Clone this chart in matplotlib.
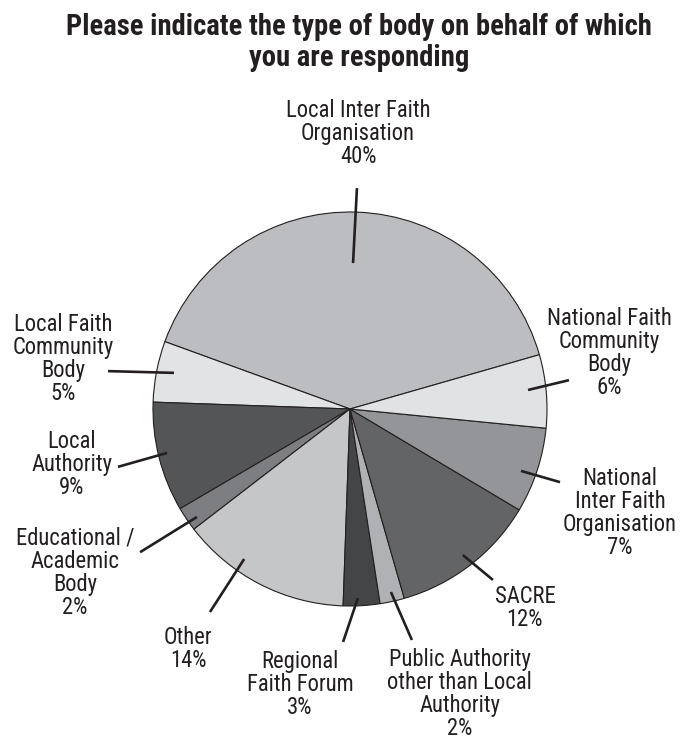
import matplotlib
matplotlib.use("Agg")
import matplotlib.pyplot as plt
from matplotlib.font_manager import FontProperties
import numpy as np

# ---- data ----
categories = [
    "Local Inter Faith\nOrganisation",
    "Local Faith\nCommunity\nBody",
    "Local\nAuthority",
    "Educational /\nAcademic\nBody",
    "Other",
    "Regional\nFaith Forum",
    "Public Authority\nother than Local\nAuthority",
    "SACRE",
    "National\nInter Faith\nOrganisation",
    "National Faith\nCommunity\nBody",
]
percent = [40, 5, 9, 2, 14, 3, 2, 12, 7, 6]
colors = ["#bcbdc0", "#e2e3e5", "#545557", "#7d7e81", "#c5c6c8",
          "#444547", "#b0b1b4", "#636466", "#949598", "#e1e2e4"]
title = "Please indicate the type of body on behalf of which\nyou are responding"

# ---- layout (in pie-radius units / degrees relative to wedge middle) ----
leaders = [
    (0.8, 0.741, 0.2, 1.122),
    (-0.6, 0.912, 2.1, 1.243),
    (-0.7, 0.955, -0.2, 1.214),
    (1.2, 0.951, 0.3, 1.29),
    (-8.0, 0.932, -7.4, 1.252),
    (-1.0, 0.96, -5.1, 1.183),
    (0.2, 0.952, 2.6, 1.214),
    (0.1, 0.937, 2.3, 1.131),
    (-1.7, 0.923, -1.0, 1.129),
    (0.9, 0.909, 2.3, 1.121),
]
text_pos = [
    (0.041, 1.401), (-1.457, 0.254), (-1.411, -0.284), (-1.396, -0.832),
    (-0.822, -1.218), (-0.254, -1.401), (0.558, -1.445), (0.888, -1.010),
    (1.371, -0.528), (1.315, 0.284),
]

FONT = ["Roboto Condensed", "Liberation Sans Narrow", "Roboto", "DejaVu Sans"]
INK = "#231f20"

W, H = 684, 742
fig = plt.figure(figsize=(W / 100, H / 100), dpi=100)
ax = fig.add_axes([0, 0, 1, 1])
R_px = 197.0
cx, cy = 350.0, 409.0

wedges, _ = ax.pie(percent, colors=colors, startangle=16, counterclock=True,
                   radius=1.0, center=(0, 0), frame=True,
                   wedgeprops=dict(edgecolor=INK, linewidth=0.8))
ax.set_xlim(-cx / R_px, (W - cx) / R_px)
ax.set_ylim(-(H - cy) / R_px, cy / R_px)
ax.set_aspect("auto")
ax.axis("off")

fig.canvas.draw()
r = fig.canvas.get_renderer()

# label font size fitted to reference width of "Local Inter Faith" (~144 px)
probe = fig.text(0, 0, "Local Inter Faith", fontsize=14.5, family=FONT)
pw = probe.get_window_extent(r).width
probe.remove()
s_lab = 14.5 * 144.0 / pw
fp = FontProperties(family=FONT, size=s_lab)
_, h_lp, _ = r.get_text_width_height_descent("lp", fp, ismath=False)
ls = 23.0 / h_lp

for w, lab, p, ld, tp in zip(wedges, categories, percent, leaders, text_pos):
    mid = 0.5 * (w.theta1 + w.theta2)
    a_in = np.deg2rad(mid + ld[0])
    a_out = np.deg2rad(mid + ld[2])
    ax.plot([ld[1] * np.cos(a_in), ld[3] * np.cos(a_out)],
            [ld[1] * np.sin(a_in), ld[3] * np.sin(a_out)],
            color=INK, lw=1.9, solid_capstyle="butt")
    ax.text(tp[0], tp[1], f"{lab}\n{p}%", ha="center", va="center",
            fontsize=s_lab, family=FONT, color=INK, linespacing=ls)

t1 = fig.text(359 / W, 1 - 35 / H, title.split("\n")[0], ha="center",
              va="baseline", fontsize=19, fontweight="bold", family=FONT,
              color=INK)
t2 = fig.text(359 / W, 1 - 66 / H, title.split("\n")[1], ha="center",
              va="baseline", fontsize=19, fontweight="bold", family=FONT,
              color=INK)
tw = t1.get_window_extent(r).width
s_title = 19 * 586.0 / tw
t1.set_fontsize(s_title)
t2.set_fontsize(s_title)

fig.savefig("out.png", dpi=100)
